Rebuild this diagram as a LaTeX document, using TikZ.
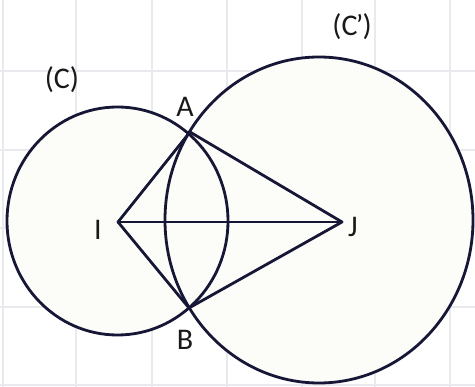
\documentclass[tikz,border=0pt]{standalone}
\usepackage{fontspec}
\setmainfont{Carlito}
\definecolor{ink}{RGB}{22,22,54}
\definecolor{gridc}{RGB}{232,234,238}
\definecolor{fillc}{RGB}{252,252,249}
\begin{document}
\begin{tikzpicture}[x=1pt,y=-1pt,
  lbl/.style={font=\fontsize{30}{30}\selectfont, inner sep=0pt, text=black!90},
  seg/.style={draw=ink, line width=2.8pt, line join=round, line cap=round},
  circ/.style={draw=ink, line width=2.8pt}]
\fill[white] (0,0) rectangle (475,387);
\useasboundingbox (0,0) rectangle (475,387);
% grid
\foreach \x in {3,76,152,227,302,375,450} \draw[gridc, line width=1.2pt] (\x,0) -- (\x,387);
\foreach \y in {71,150,228,307,385} \draw[gridc, line width=1.2pt] (0,\y) -- (475,\y);
% circle fills
\fill[fillc] (319,220) ellipse [x radius=154, y radius=163];
\fill[fillc] (117.5,221) ellipse [x radius=110.5, y radius=114];
% circle outlines
\draw[circ] (319,220) ellipse [x radius=154, y radius=163];
\draw[circ] (117.5,221) ellipse [x radius=110.5, y radius=114];
% points
\coordinate (I) at (118,222);
\coordinate (J) at (342,222);
\coordinate (A) at (190,132);
\coordinate (B) at (189,308);
% segments
\draw[seg] (I) -- (A);
\draw[seg] (I) -- (B);
\draw[seg] (I) -- (J);
\draw[seg] (A) -- (J);
\draw[seg] (B) -- (J);
% labels
\node[lbl] (lC) at (62,80) {(C)};
\node[lbl] (lCp) at (352,27) {(C\kern-1.5pt’\kern-1pt)};
\node[lbl, anchor=base] (lA) at (185,117) {A};
\node[lbl, anchor=base] (lB) at (185,350) {B};
\node[lbl, anchor=base] (lI) at (98,240) {I};
\node[lbl, anchor=base] (lJ) at (353,237) {J};
\end{tikzpicture}
\end{document}
